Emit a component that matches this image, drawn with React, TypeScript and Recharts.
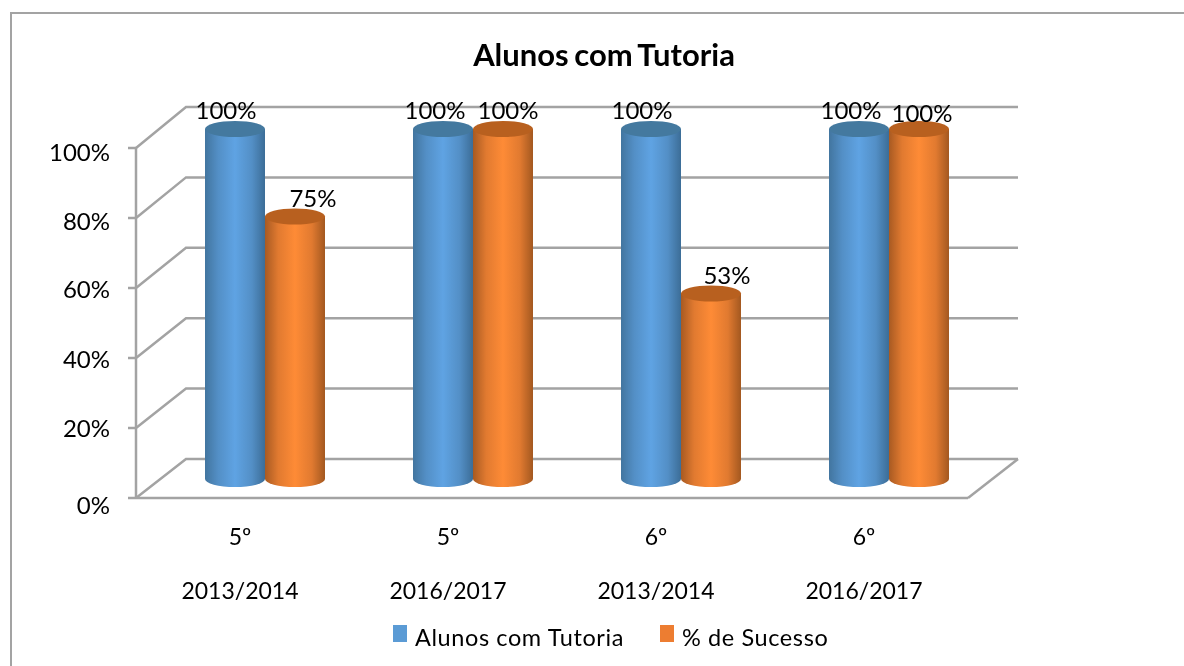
import React from "react";
import { BarChart, Bar, XAxis, YAxis, CartesianGrid, Legend, LabelList } from "recharts";

const grades = ["5º", "5º", "6º", "6º"];
const years = ["2013/2014", "2016/2017", "2013/2014", "2016/2017"];
const tutoria = [100, 100, 100, 100];
const sucesso = [75, 100, 53, 100];
const yTicks = [0, 20, 40, 60, 80, 100];

const data = grades.map((g, i) => ({
  cat: `${g}|${years[i]}|${i}`,
  tutoria: tutoria[i],
  sucesso: sucesso[i],
}));

const FONT = "Lato, sans-serif";
const GREY = "#a3a3a3";
const DEPTH_X = 50;
const DEPTH_Y = 39;
const SHIFT_X = 25;
const SHIFT_Y = 19;
const RY = 8;
const FLOOR_Y = 498;

const blueLabelDx = [-9, -8, -9, -8];
const orangeLabelDx = [18, 5, 16, 3];
const orangeLabelDy = [0, 0, 0, 3];
const yLabelDy: Record<number, number> = { 100: 13, 80: 12, 60: 10, 40: 10, 20: 9, 0: 16 };

function Cylinder(props: any) {
  const { x, y, width, height, gradient, cap } = props;
  const l = x + SHIFT_X;
  const r = l + width;
  const top = y - SHIFT_Y;
  const bot = y + height - SHIFT_Y;
  const rx = width / 2;
  return (
    <g>
      <path
        d={`M${l},${top} L${l},${bot} A${rx},${RY} 0 0 0 ${r},${bot} L${r},${top} Z`}
        fill={`url(#${gradient})`}
      />
      <ellipse cx={l + rx} cy={top} rx={rx} ry={RY} fill={cap} />
    </g>
  );
}

function GridLine(props: any) {
  const { x1, x2, y1, index } = props;
  const bx1 = x1 + DEPTH_X;
  const bx2 = x2 + DEPTH_X;
  const by = y1 - DEPTH_Y - (FLOOR_Y - y1) * 0.0057;
  const isFloor = y1 > FLOOR_Y - 10;
  return (
    <g key={index}>
      <path d={`M${x1},${y1} L${bx1},${by} L${bx2},${by}`} fill="none" stroke={GREY} strokeWidth={2.5} />
      {isFloor ? <path d={`M${x2},${y1} L${bx2},${by}`} fill="none" stroke={GREY} strokeWidth={2.5} /> : null}
    </g>
  );
}

function CategoryTick(props: any) {
  const { x, payload } = props;
  const [grade, year] = String(payload.value).split("|");
  return (
    <g fontFamily={FONT} fontSize={23} fill="#000" textAnchor="middle">
      <text x={x} y={545}>{grade}</text>
      <text x={x} y={599}>{year}</text>
    </g>
  );
}

function ValueTick(props: any) {
  const { x, y, payload } = props;
  const dy = yLabelDy[payload.value] ?? 12;
  return (
    <text x={x} y={y + dy} textAnchor="end" fontFamily={FONT} fontSize={24} fill="#000">
      {payload.value}%
    </text>
  );
}

function makeLabel(dxs: number[], dys: number[] | null) {
  return (props: any) => {
    const { x, y, width, value, index } = props;
    const dx = dxs[index] ?? 0;
    const dy = dys ? dys[index] ?? 0 : 0;
    return (
      <text
        x={x + SHIFT_X + width / 2 + dx}
        y={y - 29 + dy}
        textAnchor="middle"
        fontFamily={FONT}
        fontSize={24}
        fill="#000"
      >
        {value}%
      </text>
    );
  };
}

function LegendBox(props: any) {
  const items = props.payload || [];
  const lefts = [393, 660];
  return (
    <div style={{ position: "relative", width: 1184, height: 40, fontFamily: FONT, fontSize: 23.5, color: "#000" }}>
      {items.map((it: any, i: number) => (
        <React.Fragment key={it.value}>
          <div style={{ position: "absolute", left: lefts[i], top: 5, width: 14, height: 17, background: it.color }} />
          <div style={{ position: "absolute", left: lefts[i] + 22, top: 3, whiteSpace: "nowrap", lineHeight: "28px", letterSpacing: 0.6 }}>
            {it.value}
          </div>
        </React.Fragment>
      ))}
    </div>
  );
}

export default function App() {
  return (
    <div style={{ position: "absolute", left: 0, top: 0, width: 1184, height: 666, overflow: "hidden", background: "#fff", filter: "blur(0.4px)" }}>
      <div style={{ position: "absolute", left: 10, top: 12, width: 1300, height: 700, border: `2.5px solid ${GREY}`, boxSizing: "border-box" }} />
      <div style={{ position: "absolute", left: 0, top: 36, width: 1208, textAlign: "center", fontFamily: FONT, fontWeight: 700, fontSize: 31, lineHeight: "36px", color: "#000", wordSpacing: -2 }}>
        Alunos com Tutoria
      </div>
      <BarChart
        width={1184}
        height={666}
        data={data}
        margin={{ top: 148, right: 216, bottom: 0, left: 0 }}
        barGap={0}
        barSize={60}
        style={{ position: "absolute", left: 0, top: 0 }}
      >
        <defs>
          <linearGradient id="blueSide" x1="0" y1="0" x2="1" y2="0">
            <stop offset="0" stopColor="#42759f" />
            <stop offset="0.22" stopColor="#538fc6" />
            <stop offset="0.5" stopColor="#5fa3e3" />
            <stop offset="0.78" stopColor="#538fc6" />
            <stop offset="1" stopColor="#3c6d97" />
          </linearGradient>
          <linearGradient id="orangeSide" x1="0" y1="0" x2="1" y2="0">
            <stop offset="0" stopColor="#a85a22" />
            <stop offset="0.22" stopColor="#e17a30" />
            <stop offset="0.5" stopColor="#fe8b36" />
            <stop offset="0.78" stopColor="#e17a30" />
            <stop offset="1" stopColor="#a35820" />
          </linearGradient>
        </defs>
        <CartesianGrid vertical={false} horizontal={GridLine as any} />
        <XAxis
          dataKey="cat"
          height={168}
          tickLine={false}
          axisLine={{ stroke: GREY, strokeWidth: 2.5 }}
          tick={CategoryTick as any}
          interval={0}
        />
        <YAxis
          width={136}
          domain={[0, 100]}
          ticks={yTicks}
          tickSize={8}
          tickMargin={18}
          axisLine={{ stroke: GREY, strokeWidth: 2.5 }}
          tickLine={{ stroke: GREY, strokeWidth: 2.5 }}
          tick={ValueTick as any}
        />
        <Legend
          layout="horizontal"
          verticalAlign="middle"
          align="center"
          itemSorter={null as any}
          wrapperStyle={{ position: "absolute", left: 0, top: 620, width: 1184, height: 40 }}
          content={LegendBox as any}
        />
        <Bar
          dataKey="tutoria"
          name="Alunos com Tutoria"
          fill="#5b9bd5"
          isAnimationActive={false}
          shape={(p: any) => <Cylinder {...p} gradient="blueSide" cap="#44799f" />}
        >
          <LabelList dataKey="tutoria" content={makeLabel(blueLabelDx, null) as any} />
        </Bar>
        <Bar
          dataKey="sucesso"
          name="% de Sucesso"
          fill="#ed7d31"
          isAnimationActive={false}
          shape={(p: any) => <Cylinder {...p} gradient="orangeSide" cap="#b8601f" />}
        >
          <LabelList dataKey="sucesso" content={makeLabel(orangeLabelDx, orangeLabelDy) as any} />
        </Bar>
      </BarChart>
    </div>
  );
}
